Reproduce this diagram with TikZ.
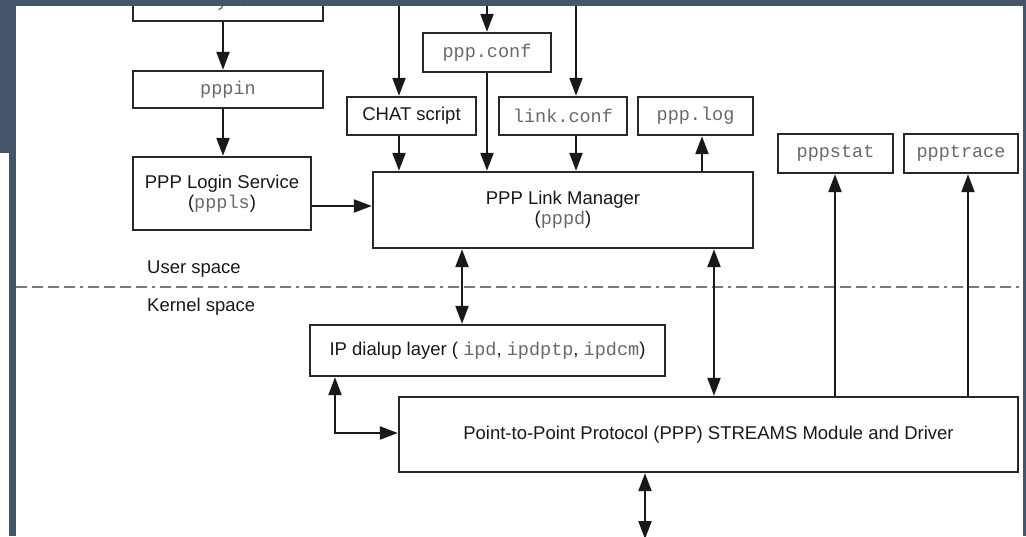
\documentclass[tikz,border=0pt]{standalone}
\usepackage{fontspec}
\setmainfont{Liberation Sans}
\setmonofont{Liberation Mono}
\usetikzlibrary{arrows.meta,calc}
\definecolor{framecol}{RGB}{68,85,108}
\definecolor{ink}{RGB}{25,25,25}
\definecolor{monoink}{RGB}{105,105,105}
\definecolor{boxline}{RGB}{40,40,40}
\definecolor{sepcol}{RGB}{120,120,120}
\newcommand{\mt}[1]{{\ttfamily\color{monoink}#1}}
\begin{document}
\begin{tikzpicture}[x=1pt,y=-1pt,
  every node/.style={font=\fontsize{18.5}{20}\selectfont, text=ink, inner sep=0pt},
  box/.style={draw=boxline, line width=2.4pt, fill=white, align=center},
  arr/.style={line width=2.2pt, draw=ink, -{Triangle[length=18pt,width=13pt]}},
  darr/.style={line width=2.2pt, draw=ink, {Triangle[length=18pt,width=13pt]}-{Triangle[length=18pt,width=13pt]}},
  lbl/.style={anchor=west},
  sepline/.style={draw=sepcol, line width=2pt, dash pattern=on 11pt off 5pt on 11pt off 5pt on 11pt off 5pt on 11pt off 5pt on 3pt off 5pt}]
\useasboundingbox (0,0) rectangle (1026,536);
\fill[white] (0,0) rectangle (1026,536);

% separator
\draw[sepline] (16,287) -- (1023,287);
\node[lbl] (user) at (147,269) {User space};
\node[lbl] (kernel) at (147,307) {Kernel space};

% boxes
\node[box, minimum width=190pt, minimum height=37pt] (tty) at (228,2.5) {\mt{ttymon}};
\node[box, minimum width=190pt, minimum height=37pt] (pppin) at (228,89.5) {\mt{pppin}};
\node[box, minimum width=178pt, minimum height=73pt] (login) at (222,193.5) {PPP Login Service\\(\mt{pppls})};
\node[box, minimum width=128pt, minimum height=39pt] (conf) at (487,52.5) {\mt{ppp.conf}};
\node[box, minimum width=129pt, minimum height=38pt] (chat) at (411.5,116) {CHAT script};
\node[box, minimum width=128pt, minimum height=38pt] (link) at (563,116) {\mt{link.conf}};
\node[box, minimum width=115pt, minimum height=38pt] (log) at (695.5,116) {\mt{ppp.log}};
\node[box, minimum width=115pt, minimum height=39pt] (stat) at (835.5,153.5) {\mt{pppstat}};
\node[box, minimum width=114pt, minimum height=39pt] (trace) at (961,153.5) {\mt{ppptrace}};
\node[box, minimum width=380pt, minimum height=76pt] (lm) at (563,210) {PPP Link Manager\\(\mt{pppd})};
\node[box, minimum width=355pt, minimum height=51pt] (ip) at (487.5,350.5) {IP dialup layer ( \mt{ipd}, \mt{ipdptp}, \mt{ipdcm})};
\node[box, minimum width=619pt, minimum height=75pt] (ppp) at (708.5,434.5) {Point-to-Point Protocol (PPP) STREAMS Module and Driver};

% helper coordinates
\coordinate (xa) at (223,0);
\coordinate (tchat) at (399,-2);
\coordinate (tconf) at (487,-2);
\coordinate (tlink) at (576,-2);
\coordinate (xlog) at (702,0);
\coordinate (ylogin) at (0,206);
\coordinate (xip) at (462,0);
\coordinate (xlp) at (714,0);
\coordinate (xst) at (835,0);
\coordinate (xtr) at (968,0);
\coordinate (elb) at (335,433);
\coordinate (bot) at (645,539);

% connectors
\draw[arr] (tty.south -| xa) -- (pppin.north -| xa);
\draw[arr] (pppin.south -| xa) -- (login.north -| xa);
\draw[arr] (tchat) -- (chat.north -| tchat);
\draw[arr] (tconf) -- (conf.north -| tconf);
\draw[arr] (conf.south -| tconf) -- (lm.north -| tconf);
\draw[arr] (tlink) -- (link.north -| tlink);
\draw[arr] (chat.south -| tchat) -- (lm.north -| tchat);
\draw[arr] (link.south -| tlink) -- (lm.north -| tlink);
\draw[arr] (lm.north -| xlog) -- (log.south -| xlog);
\draw[arr] (login.east |- ylogin) -- (lm.west |- ylogin);
\draw[darr] (lm.south -| xip) -- (ip.north -| xip);
\draw[darr] (lm.south -| xlp) -- (ppp.north -| xlp);
\draw[arr] (ppp.north -| xst) -- (stat.south -| xst);
\draw[arr] (ppp.north -| xtr) -- (trace.south -| xtr);
\draw[darr] (ip.south -| elb) -- (elb) -- (ppp.west |- elb);
\draw[darr] (ppp.south -| bot) -- (bot);

% surrounding frame
\fill[framecol] (0,0) rectangle (1026,6);
\fill[framecol] (0,0) rectangle (16,153);
\fill[framecol] (9,153) rectangle (16,536);
\fill[framecol] (1023,0) rectangle (1026,536);
\end{tikzpicture}
\end{document}
